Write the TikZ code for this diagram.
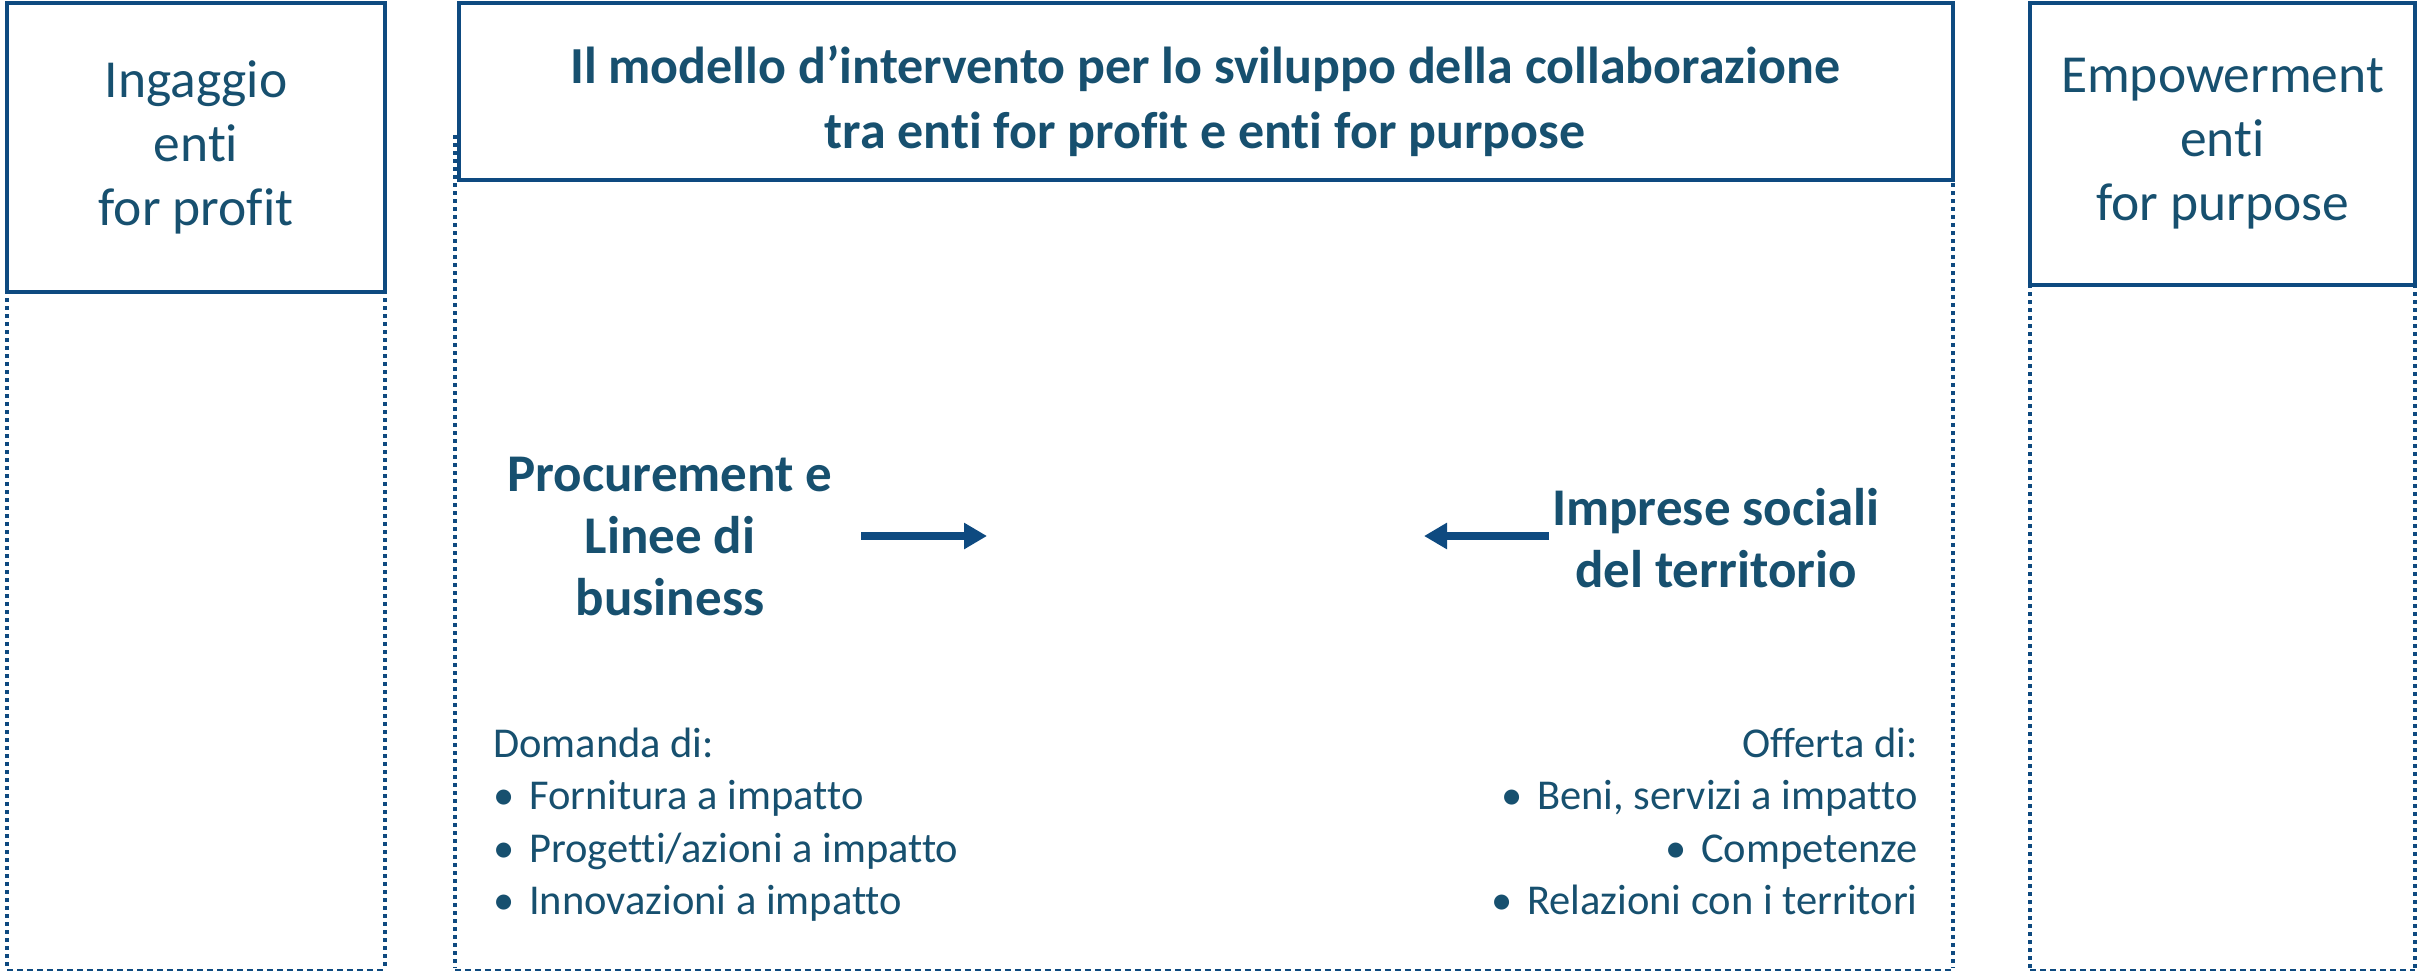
\documentclass[tikz,border=0pt]{standalone}
\usepackage{fontspec}
\setmainfont{Carlito}[Ligatures={TeX,NoCommon}]
\usetikzlibrary{arrows.meta,positioning}
\definecolor{inktext}{HTML}{17506F}
\definecolor{inkline}{HTML}{0E4A80}
\tikzset{
  sidebox/.style={draw=inkline, line width=4pt, align=center, text=inktext,
    font=\fontsize{53.5}{64}\selectfont},
  frameline/.style={draw=inkline, line width=3.5pt, dash pattern=on 4pt off 4pt},
  footline/.style={draw=inkline, line width=1.6pt, dash pattern=on 6pt off 4pt},
  flowarrow/.style={draw=inkline, line width=8pt, -{Triangle[length=23pt,width=25pt]}},
  actor/.style={text=inktext, align=center, font=\bfseries\fontsize{53}{62}\selectfont},
  listtext/.style={text=inktext, inner sep=0pt, font=\fontsize{42.5}{52.5}\selectfont},
}
\newcommand{\itembul}{\makebox[36pt][l]{\textbullet}}
\begin{document}
\begin{tikzpicture}[x=1pt,y=-1pt]
  \useasboundingbox (0,0) rectangle (2433,972);

  % dotted columns
  \draw[frameline] (7,290) -- (7,968);
  \draw[frameline] (385,290) -- (385,968);
  \draw[footline] (7,970) -- (385,970);

  \draw[frameline] (455,135) -- (455,968);
  \draw[frameline] (1953,135) -- (1953,968);
  \draw[footline] (455,970) -- (1953,970);

  \draw[frameline] (2030,284) -- (2030,968);
  \draw[frameline] (2415,284) -- (2415,968);
  \draw[footline] (2030,970) -- (2415,970);

  % header boxes
  \node[sidebox, minimum width=378pt, minimum height=289pt] (ingaggio) at (196,147.5) {Ingaggio\\enti\\for profit};
  \node[sidebox, minimum width=385pt, minimum height=282pt] (empower) at (2222.5,144) {Empowerment\\enti\\for purpose};
  \node[draw=inkline, line width=4pt, minimum width=1494pt, minimum height=177pt] (titlebox) at (1205.5,91.5) {};
  \node[text=inktext, align=center, font=\bfseries\fontsize{52}{65}\selectfont] (title) at (1205,101)
    {Il modello d'intervento per lo sviluppo della collaborazione\\tra enti for profit e enti for purpose};

  % the two sides
  \node[actor] (proc) at (670,537) {Procurement e\\Linee di\\business};
  \node[actor] (imprese) at (1716,538) {Imprese sociali\\del territorio};

  \coordinate (procstart) at (861,536);
  \coordinate (procend) at (987,536);
  \coordinate (impstart) at (1549,536);
  \coordinate (impend) at (1424,536);
  \draw[flowarrow] (procstart) -- (procend);
  \draw[flowarrow] (impstart) -- (impend);

  \node[listtext, anchor=base west] (domanda) at (493,757)
    {\begin{tabular}[t]{@{}l@{}}
      Domanda di:\\
      \itembul Fornitura a impatto\\
      \itembul Progetti/azioni a impatto\\
      \itembul Innovazioni a impatto
    \end{tabular}};
  \node[listtext, anchor=base east] (offerta) at (1918,757)
    {\begin{tabular}[t]{@{}r@{}}
      Offerta di:\\
      \itembul Beni, servizi a impatto\\
      \itembul Competenze\\
      \itembul Relazioni con i territori
    \end{tabular}};
\end{tikzpicture}
\end{document}
